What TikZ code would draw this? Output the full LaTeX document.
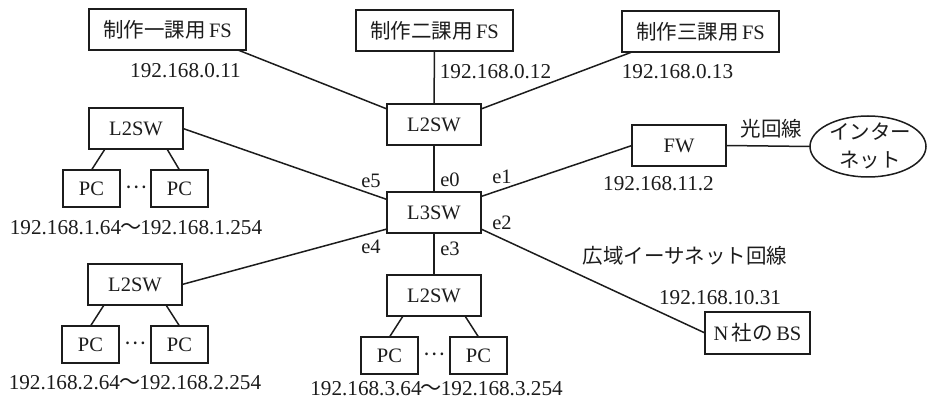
\documentclass[tikz,border=0pt]{standalone}
\usepackage{fontspec}
\usetikzlibrary{shapes.geometric}
\setmainfont{Liberation Serif}
\newfontfamily\cjk{Noto Sans CJK JP}
\definecolor{ink}{HTML}{1C1C1C}
\newcommand{\netrange}[2]{#1\kern-1pt{\cjk 〜}\kern-1pt#2}
\tikzset{
  x=1pt,y=-1pt,
  every node/.style={text=ink,font=\fontsize{20.5}{24}\selectfont,inner sep=0pt,outer sep=0pt},
  wire/.style={draw=ink,line width=1.5pt},
  box/.style={draw=ink,line width=1.5pt,rectangle},
  fsbox/.style={box,minimum width=157pt,minimum height=41pt},
  swbox/.style={box,minimum width=94pt,minimum height=41pt},
  pcbox/.style={box,minimum width=57pt,minimum height=37pt},
  addr/.style={font=\fontsize{21.2}{24}\selectfont},
}
\begin{document}
\begin{tikzpicture}
\useasboundingbox (0,0) rectangle (927,401);
% servers
\node[fsbox] (fs1) at (167.5,29.5) {{\cjk 制作一課用}\,FS};
\node[fsbox] (fs2) at (434.5,30.5) {{\cjk 制作二課用}\,FS};
\node[fsbox] (fs3) at (700.5,31.5) {{\cjk 制作三課用}\,FS};
% switches
\node[swbox] (top) at (434,124.5) {L2SW};
\node[swbox] (core) at (434,212.5) {L3SW};
\node[swbox] (sw1) at (136,128.5) {L2SW};
\node[swbox] (sw2) at (135,284.5) {L2SW};
\node[swbox] (sw3) at (434,295.5) {L2SW};
% PCs
\node[pcbox] (pc1a) at (91.5,188.5) {PC};
\node[pcbox] (pc1b) at (179.5,188.5) {PC};
\node[pcbox] (pc2a) at (90.5,344.5) {PC};
\node[pcbox] (pc2b) at (179.5,344.5) {PC};
\node[pcbox] (pc3a) at (389.5,355.5) {PC};
\node[pcbox] (pc3b) at (478.5,355.5) {PC};
\node (d1) at (136,187.5) {\cjk …};
\node (d2) at (135,343) {\cjk …};
\node (d3) at (434,354.5) {\cjk …};
% right side
\node[swbox] (fw) at (679,145.5) {FW};
\node[draw=ink,line width=1.5pt,ellipse,minimum width=116pt,minimum height=61pt] (net) at (868,146.5) {};
\node (n1) at (870,132) {\cjk インター};
\node (n2) at (870,160) {\cjk ネット};
\node[box,minimum width=105pt,minimum height=42pt] (bs) at (757.5,333) {N\,{\cjk 社の}\,BS};
% connectors
\draw[wire] ([xshift=-8pt]fs1.south east) -- ([yshift=-5pt]top.north west);
\draw[wire] (fs2.south) -- (top.north);
\draw[wire] ([xshift=10pt]fs3.south west) -- ([yshift=-5pt]top.north east);
\draw[wire] (top.south) -- (core.north);
\draw[wire] (sw1.east) -- ([yshift=13pt]core.west);
\draw[wire] ([yshift=4pt]core.south west) -- (sw2.east);
\draw[wire] (core.south) -- (sw3.north);
\draw[wire] ([yshift=16pt]core.east) -- (fw.west);
\draw[wire] ([yshift=4pt]core.south east) -- (bs.west);
\draw[wire] (fw.east) -- (net.west);
\foreach \s/\a/\b in {sw1/pc1a/pc1b,sw2/pc2a/pc2b,sw3/pc3a/pc3b}{
  \draw[wire] ([xshift=16pt]\s.south west) -- (\a.north);
  \draw[wire] ([xshift=-16pt]\s.south east) -- (\b.north);
}
% labels
\node[addr] (a1) at (185.5,71) {192.168.0.11};
\node[addr] (a2) at (495.5,72) {192.168.0.12};
\node[addr] (a3) at (677.5,72) {192.168.0.13};
\node[addr] (a4) at (658.5,184) {192.168.11.2};
\node[addr] (a5) at (720,298) {192.168.10.31};
\node[addr] (r1) at (136,228) {\netrange{192.168.1.64}{192.168.1.254}};
\node[addr] (r2) at (135,383) {\netrange{192.168.2.64}{192.168.2.254}};
\node[addr] (r3) at (436.5,389) {\netrange{192.168.3.64}{192.168.3.254}};
\node (e0) at (450,180) {e0};
\node (e1) at (502,177) {e1};
\node (e2) at (502,223) {e2};
\node (e3) at (450,249) {e3};
\node (e4) at (371,247) {e4};
\node (e5) at (371,181) {e5};
\node (l1) at (771.5,129) {\cjk 光回線};
\node (l2) at (685,256) {\cjk 広域イーサネット回線};
\end{tikzpicture}
\end{document}
